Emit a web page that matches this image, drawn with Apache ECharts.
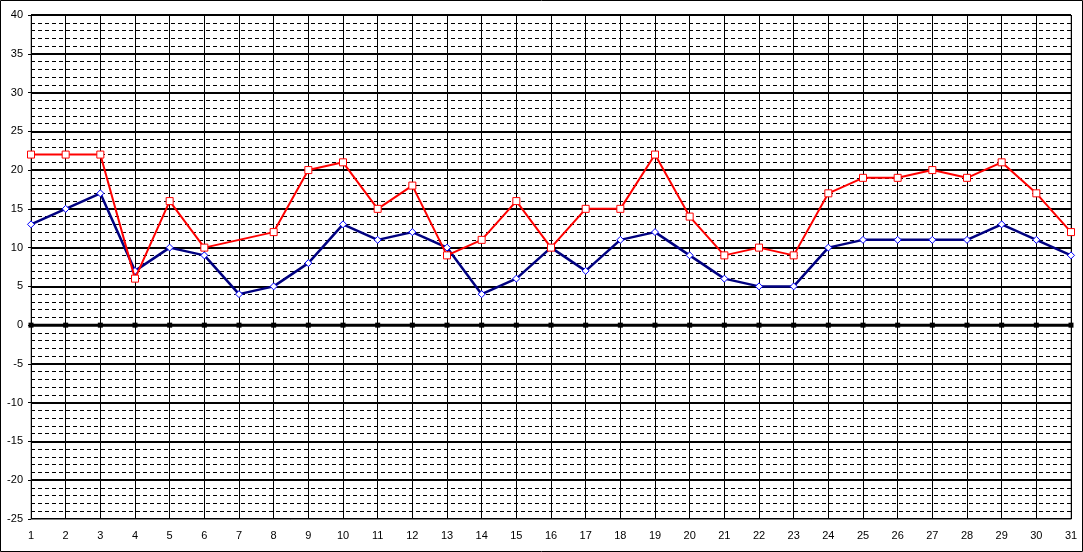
<!DOCTYPE html>
<html><head><meta charset="utf-8">
<script src="https://cdn.jsdelivr.net/npm/echarts@6/dist/echarts.min.js"></script>
<style>html,body{margin:0;padding:0;background:#fff}#c{width:1083px;height:552px}</style>
</head><body><div id="c"></div>
<script>
const categories = ['1','2','3','4','5','6','7','8','9','10','11','12','13','14','15','16','17','18','19','20','21','22','23','24','25','26','27','28','29','30','31'];
const redValues = [22,22,22,6,16,10,null,12,20,21,15,18,9,11,16,10,15,15,22,14,9,10,9,17,19,19,20,19,21,17,12];
const blueValues = [13,15,17,7,10,9,4,5,8,13,11,12,10,4,6,10,7,11,12,9,6,5,5,10,11,11,11,11,13,11,9];
const zeroValues = categories.map(() => 0);
const yMin = -25, yMax = 40, yStep = 5;

const chart = echarts.init(document.getElementById('c'), null, {renderer: 'canvas'});
chart.setOption({
  animation: false,
  backgroundColor: '#fff',
  textStyle: {fontFamily: 'Liberation Sans, Arial, sans-serif'},
  grid: {left: 31, right: 12, top: 15, bottom: 33, show: true, borderColor: '#808080', borderWidth: 1, containLabel: false},
  graphic: [{type: 'rect', shape: {x: 0.5, y: 0.5, width: 1082, height: 551}, style: {fill: 'none', stroke: '#000', lineWidth: 1}, silent: true, z: 100}],
  xAxis: {
    type: 'category', data: categories, boundaryGap: false,
    axisLine: {onZero: false, lineStyle: {color: '#808080', width: 1}},
    axisTick: {show: false},
    axisLabel: {color: '#000', fontSize: 11, margin: 11, fontFamily: 'Liberation Sans, Arial, sans-serif'},
    splitLine: {show: true, lineStyle: {color: '#000', width: 1}}
  },
  yAxis: {
    type: 'value', min: yMin, max: yMax, interval: yStep,
    axisLine: {show: true, lineStyle: {color: '#000', width: 1}},
    axisTick: {show: true, length: 3, lineStyle: {color: '#000'}},
    axisLabel: {color: '#000', fontSize: 11, margin: 8, fontFamily: 'Liberation Sans, Arial, sans-serif'},
    splitLine: {show: true, lineStyle: {color: '#000', width: 2}},
    minorTick: {show: false, splitNumber: 5},
    minorSplitLine: {show: true, lineStyle: {color: '#000', width: 1, type: [4, 3]}}
  },
  series: [
    {name: 'zero', type: 'line', data: zeroValues, symbol: 'rect', symbolSize: 5, showAllSymbol: true,
     itemStyle: {color: '#000'}, lineStyle: {color: '#000', width: 3}, z: 2, silent: true},
    {name: 'blue', type: 'line', data: blueValues, symbol: 'diamond', symbolSize: 7, showAllSymbol: true,
     itemStyle: {color: '#fff', borderColor: '#0000ff', borderWidth: 1}, lineStyle: {color: '#000080', width: 2.5}, z: 3},
    {name: 'red', type: 'line', data: redValues, symbol: 'rect', symbolSize: 7, showAllSymbol: true, connectNulls: true,
     itemStyle: {color: '#fff', borderColor: '#ff0000', borderWidth: 1}, lineStyle: {color: '#ff0000', width: 2}, z: 4}
  ]
});
</script></body></html>
